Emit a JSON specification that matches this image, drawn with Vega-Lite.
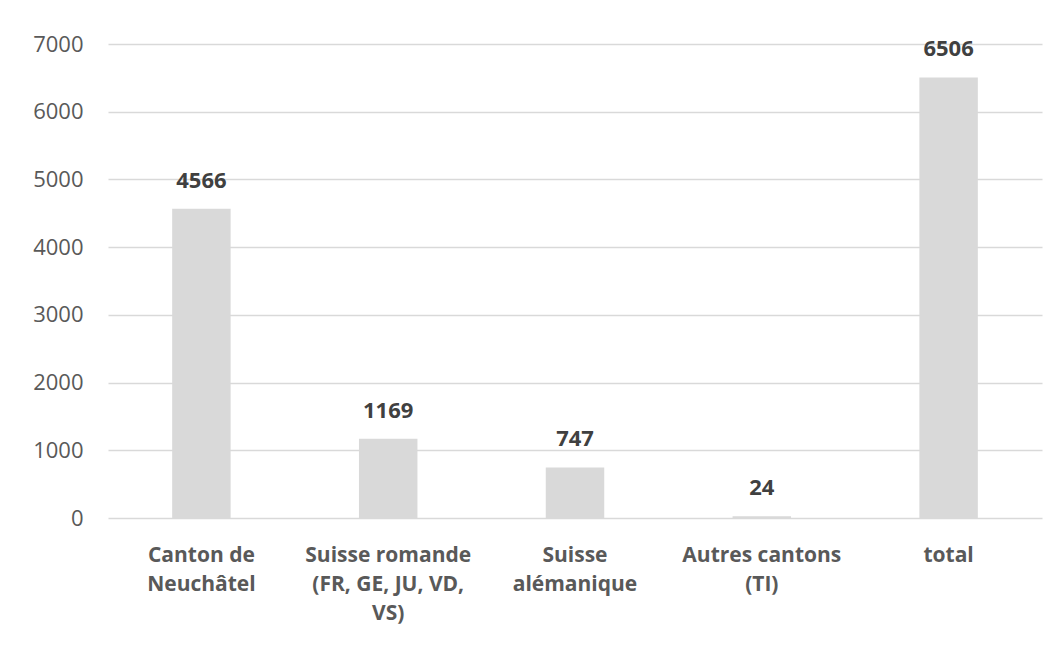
{
  "$schema": "https://vega.github.io/schema/vega-lite/v6.json",
  "autosize": {"type": "none"},
  "width": 934,
  "height": 474,
  "padding": {"left": 108, "top": 44, "right": 20, "bottom": 128},
  "background": "white",
  "config": {"view": {"stroke": null}, "font": "Open Sans"},
  "data": {"values": [
    {"category": "Canton de Neuchâtel", "value": 4566},
    {"category": "Suisse romande (FR, GE, JU, VD, VS)", "value": 1169},
    {"category": "Suisse alémanique", "value": 747},
    {"category": "Autres cantons (TI)", "value": 24},
    {"category": "total", "value": 6506}
  ]},
  "encoding": {
    "x": {
      "field": "category", "type": "nominal", "sort": null,
      "scale": {"paddingInner": 0.687, "paddingOuter": 0.3435},
      "axis": {
        "title": null, "labelAngle": 0, "domain": false, "ticks": false,
        "labelFont": "Open Sans", "labelFontSize": 21, "labelFontWeight": "bold",
        "labelColor": "#595959", "labelPadding": 26, "labelLineHeight": 29,
        "labelExpr": "datum.value == 'Canton de Neuchâtel' ? ['Canton de', 'Neuchâtel'] : datum.value == 'Suisse romande (FR, GE, JU, VD, VS)' ? ['Suisse romande', '(FR, GE, JU, VD,', 'VS)'] : datum.value == 'Suisse alémanique' ? ['Suisse', 'alémanique'] : datum.value == 'Autres cantons (TI)' ? ['Autres cantons', '(TI)'] : datum.value",
        "labelLimit": 300
      }
    },
    "y": {
      "field": "value", "type": "quantitative",
      "scale": {"domain": [0, 7000], "nice": false},
      "axis": {
        "title": null, "values": [0, 1000, 2000, 3000, 4000, 5000, 6000, 7000],
        "format": "d",
        "domain": false, "ticks": false, "grid": true,
        "gridColor": "#d9d9d9", "gridWidth": 1.5,
        "labelFont": "Open Sans", "labelFontSize": 22, "labelColor": "#595959",
        "labelPadding": 25
      }
    }
  },
  "layer": [
    {"mark": {"type": "bar", "color": "#d9d9d9"}},
    {"mark": {"type": "text", "dy": -28, "baseline": "middle", "font": "Open Sans", "fontSize": 22, "fontWeight": "bold", "color": "#404040"},
     "encoding": {"text": {"field": "value", "type": "quantitative", "format": "d"}}}
  ]
}
